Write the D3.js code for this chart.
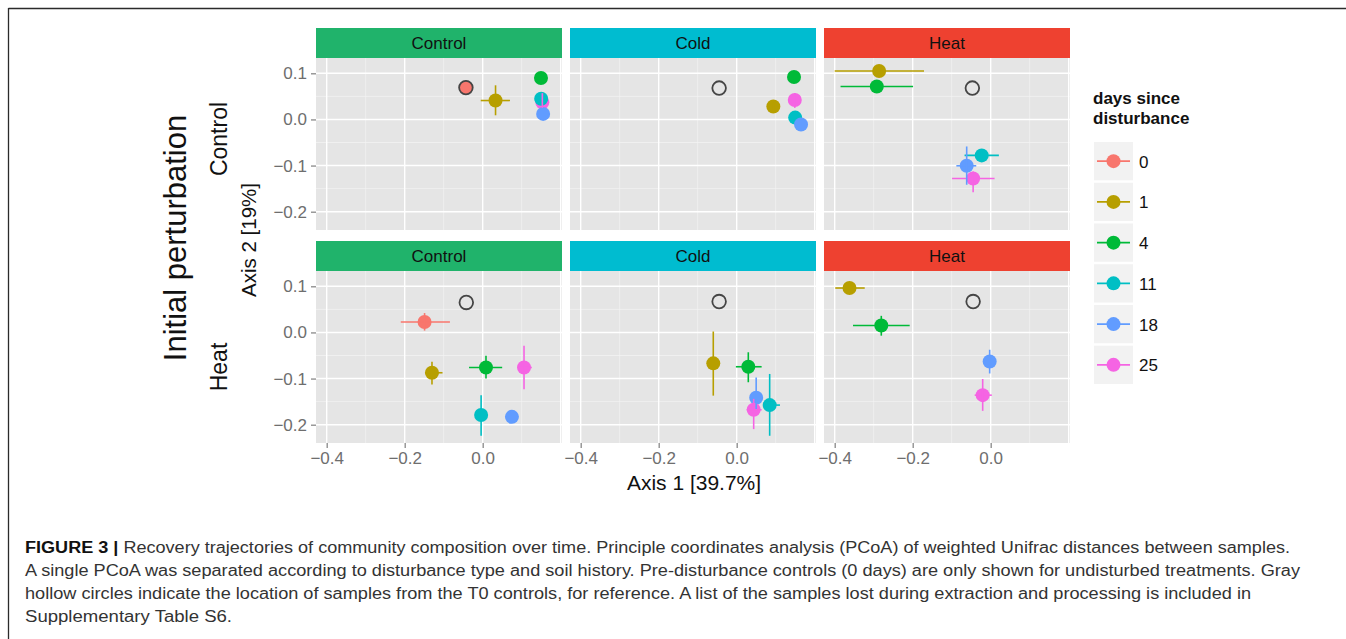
<!DOCTYPE html>
<html>
<head>
<meta charset="utf-8">
<script src="https://cdn.jsdelivr.net/npm/d3@7"></script>
<style>
  html, body { margin: 0; padding: 0; background: #ffffff; }
  svg { display: block; font-family: "Liberation Sans", Arial, Helvetica, sans-serif; }
</style>
</head>
<body>
<svg id="chart" width="1346" height="639"></svg>
<script>
// ---------------- DATA ----------------
const days = ["0", "1", "4", "11", "18", "25"];
const rowLabels = ["Control", "Heat"];          // initial perturbation (soil history)
const colLabels = ["Control", "Cold", "Heat"];  // disturbance type
const xTicks = [-0.4, -0.2, 0.0];
const yTicks = [-0.2, -0.1, 0.0, 0.1];
const xMinor = [-0.3, -0.1, 0.1];
const xMajorGrid = [-0.4, -0.2, 0.0, 0.2];
const yMinor = [-0.15, -0.05, 0.05];

// T0 control reference (gray hollow circles), one per panel [row][col]
const refPoints = [
  [{ x: -0.043, y: 0.069 }, { x: -0.045, y: 0.068 }, { x: -0.047, y: 0.068 }],
  [{ x: -0.042, y: 0.065 }, { x: -0.045, y: 0.067 }, { x: -0.045, y: 0.067 }]
];

// mean positions with error ranges, per panel
const ctrlCtrl = [
  { day: "0",  x: -0.043, y: 0.069 },
  { day: "1",  x: 0.033,  y: 0.041, xmin: -0.005, xmax: 0.070, ymin: 0.009, ymax: 0.074 },
  { day: "4",  x: 0.1495, y: 0.090 },
  { day: "25", x: 0.153,  y: 0.037, ymin: 0.025, ymax: 0.057 },
  { day: "11", x: 0.150,  y: 0.045 },
  { day: "18", x: 0.155,  y: 0.012 }
];
const ctrlCold = [
  { day: "1",  x: 0.094, y: 0.028, ymin: 0.020, ymax: 0.036 },
  { day: "4",  x: 0.147, y: 0.092, ymin: 0.086, ymax: 0.098 },
  { day: "25", x: 0.149, y: 0.042, ymin: 0.025, ymax: 0.057 },
  { day: "11", x: 0.150, y: 0.004 },
  { day: "18", x: 0.165, y: -0.011 }
];
const ctrlHeat = [
  { day: "1",  x: -0.286, y: 0.105,  xmin: -0.400, xmax: -0.171 },
  { day: "4",  x: -0.292, y: 0.0715, xmin: -0.385, xmax: -0.199 },
  { day: "11", x: -0.023, y: -0.078, xmin: -0.067, xmax: 0.021, ymin: -0.086, ymax: -0.070 },
  { day: "18", x: -0.0615, y: -0.1005, xmin: -0.088, xmax: -0.037, ymin: -0.1416, ymax: -0.0586 },
  { day: "25", x: -0.045, y: -0.128, xmin: -0.099, xmax: 0.010, ymin: -0.158, ymax: -0.113 }
];
const heatCtrl = [
  { day: "0",  x: -0.149, y: 0.0226, xmin: -0.210, xmax: -0.084, ymin: 0.004, ymax: 0.042 },
  { day: "1",  x: -0.130, y: -0.0874, xmin: -0.148, xmax: -0.103, ymin: -0.113, ymax: -0.0636 },
  { day: "4",  x: 0.0085, y: -0.076, xmin: -0.035, xmax: 0.050, ymin: -0.0998, ymax: -0.0505 },
  { day: "11", x: -0.004, y: -0.179, ymin: -0.224, ymax: -0.136 },
  { day: "18", x: 0.075, y: -0.183 },
  { day: "25", x: 0.106, y: -0.076, xmin: 0.091, xmax: 0.126, ymin: -0.123, ymax: -0.029 }
];
const heatCold = [
  { day: "1",  x: -0.060, y: -0.067, ymin: -0.137, ymax: 0.002 },
  { day: "4",  x: 0.0298, y: -0.0744, xmin: -0.002, xmax: 0.064, ymin: -0.108, ymax: -0.043 },
  { day: "11", x: 0.0846, y: -0.1575, xmin: 0.068, xmax: 0.111, ymin: -0.224, ymax: -0.090 },
  { day: "18", x: 0.050, y: -0.1416, ymin: -0.166, ymax: -0.0976 },
  { day: "25", x: 0.0436, y: -0.1677, xmin: 0.0256, xmax: 0.064, ymin: -0.2096, ymax: -0.144 }
];
const heatHeat = [
  { day: "1",  x: -0.362, y: 0.0963, xmin: -0.3985, xmax: -0.323 },
  { day: "4",  x: -0.2805, y: 0.0152, xmin: -0.353, xmax: -0.2077, ymin: -0.007, ymax: 0.036 },
  { day: "18", x: -0.0026, y: -0.063, ymin: -0.089, ymax: -0.0375 },
  { day: "25", x: -0.0205, y: -0.136, xmin: -0.041, xmax: 0.003, ymin: -0.170, ymax: -0.101 }
];
const panelData = [[ctrlCtrl, ctrlCold, ctrlHeat], [heatCtrl, heatCold, heatHeat]];

const captionLines = [
  "Recovery trajectories of community composition over time. Principle coordinates analysis (PCoA) of weighted Unifrac distances between samples.",
  "A single PCoA was separated according to disturbance type and soil history. Pre-disturbance controls (0 days) are only shown for undisturbed treatments. Gray",
  "hollow circles indicate the location of samples from the T0 controls, for reference. A list of the samples lost during extraction and processing is included in",
  "Supplementary Table S6."
];

// ---------------- STYLE ----------------
const palette = ["#F8766D", "#B79F00", "#00BA38", "#00BFC4", "#619CFF", "#F564E3"];
const stripColors = ["#20B36B", "#00BCD0", "#EE4130"];
const color = d3.scaleOrdinal().domain(days).range(palette);

const svg = d3.select("#chart");

// figure frame (top + left rule)
svg.append("line").attr("x1", 8.5).attr("x2", 1346).attr("y1", 8.5).attr("y2", 8.5)
  .attr("stroke", "#2b2b2b").attr("stroke-width", 1.3);
svg.append("line").attr("x1", 8.5).attr("x2", 8.5).attr("y1", 8).attr("y2", 639)
  .attr("stroke", "#2b2b2b").attr("stroke-width", 1.3);

const colX = [316, 570, 824];
const panelW = 246, panelH = 172, stripH = 30;
const rowTop = [28, 241];

const x = d3.scaleLinear().domain([-0.4274, 0.2034]).range([0, panelW]);
const y = d3.scaleLinear().domain([-0.2397, 0.1332]).range([panelH, 0]);

const fmt = v => d3.format(".1f")(v).replace("-", "\u2212");

rowLabels.forEach((rl, r) => {
  colLabels.forEach((cl, c) => {
    const g = svg.append("g").attr("transform", `translate(${colX[c]},${rowTop[r]})`);
    // strip
    g.append("rect").attr("x", 0).attr("y", 0).attr("width", panelW).attr("height", stripH)
      .attr("fill", stripColors[c]);
    g.append("text").attr("x", panelW / 2).attr("y", stripH / 2 + 6)
      .attr("text-anchor", "middle").attr("font-size", 17).attr("fill", "#111").text(cl);

    const p = g.append("g").attr("transform", `translate(0,${stripH})`);
    p.append("rect").attr("width", panelW).attr("height", panelH).attr("fill", "#E5E5E5");
    // minor grid
    p.selectAll(".vmin").data(xMinor).enter().append("line")
      .attr("x1", d => x(d)).attr("x2", d => x(d)).attr("y1", 0).attr("y2", panelH)
      .attr("stroke", "#F2F2F2").attr("stroke-width", 0.8);
    p.selectAll(".hmin").data(yMinor).enter().append("line")
      .attr("y1", d => y(d)).attr("y2", d => y(d)).attr("x1", 0).attr("x2", panelW)
      .attr("stroke", "#F2F2F2").attr("stroke-width", 0.8);
    // major grid
    p.selectAll(".vmaj").data(xMajorGrid).enter().append("line")
      .attr("x1", d => x(d)).attr("x2", d => x(d)).attr("y1", 0).attr("y2", panelH)
      .attr("stroke", "#FFFFFF").attr("stroke-width", 1.4);
    p.selectAll(".hmaj").data(yTicks).enter().append("line")
      .attr("y1", d => y(d)).attr("y2", d => y(d)).attr("x1", 0).attr("x2", panelW)
      .attr("stroke", "#FFFFFF").attr("stroke-width", 1.4);

    const data = panelData[r][c];
    // points
    p.selectAll(".pt").data(data).enter().append("circle")
      .attr("cx", d => x(d.x)).attr("cy", d => y(d.y)).attr("r", 7)
      .attr("fill", d => color(d.day));
    // error bars
    p.selectAll(".eh").data(data.filter(d => d.xmin !== undefined)).enter().append("line")
      .attr("x1", d => x(d.xmin)).attr("x2", d => x(d.xmax))
      .attr("y1", d => y(d.y)).attr("y2", d => y(d.y))
      .attr("stroke", d => color(d.day)).attr("stroke-width", 1.6);
    p.selectAll(".ev").data(data.filter(d => d.ymin !== undefined)).enter().append("line")
      .attr("x1", d => x(d.x)).attr("x2", d => x(d.x))
      .attr("y1", d => y(d.ymin)).attr("y2", d => y(d.ymax))
      .attr("stroke", d => color(d.day)).attr("stroke-width", 1.6);
    // reference T0 hollow circle
    const rp = refPoints[r][c];
    p.append("circle").attr("cx", x(rp.x)).attr("cy", y(rp.y)).attr("r", 6.8)
      .attr("fill", "none").attr("stroke", "#454545").attr("stroke-width", 1.8);

    // y axis on first column
    if (c === 0) {
      const ya = d3.axisLeft(y).tickValues(yTicks).tickSize(5).tickPadding(4).tickFormat(fmt);
      const ag = p.append("g").call(ya);
      ag.select(".domain").remove();
      ag.selectAll(".tick line").attr("stroke", "#7F7F7F").attr("stroke-width", 1.2);
      ag.selectAll(".tick text").attr("fill", "#6e6e6e").attr("font-size", 17)
        .attr("font-family", "Liberation Sans, Arial, sans-serif");
    }
    // x axis on bottom row
    if (r === 1) {
      const xa = d3.axisBottom(x).tickValues(xTicks).tickSize(5).tickPadding(4).tickFormat(fmt);
      const ag = p.append("g").attr("transform", `translate(0,${panelH})`).call(xa);
      ag.select(".domain").remove();
      ag.selectAll(".tick line").attr("stroke", "#7F7F7F").attr("stroke-width", 1.2);
      ag.selectAll(".tick text").attr("fill", "#6e6e6e").attr("font-size", 17)
        .attr("font-family", "Liberation Sans, Arial, sans-serif");
    }
  });
});

// row labels (left side)
const rowCenters = [139, 367];
rowLabels.forEach((rl, r) => {
  svg.append("text").attr("transform", `translate(227,${rowCenters[r]}) rotate(-90)`)
    .attr("text-anchor", "middle").attr("font-size", 23).attr("fill", "#111").text(rl);
});
svg.append("text").attr("transform", "translate(186,238) rotate(-90)")
  .attr("text-anchor", "middle").attr("font-size", 31).attr("fill", "#111").text("Initial perturbation");

// axis titles
svg.append("text").attr("x", 694).attr("y", 490).attr("text-anchor", "middle")
  .attr("font-size", 21).attr("fill", "#111").text("Axis 1 [39.7%]");
svg.append("text").attr("transform", "translate(256,240) rotate(-90)")
  .attr("text-anchor", "middle").attr("font-size", 20.5).attr("fill", "#111").text("Axis 2 [19%]");

// legend
const lg = svg.append("g").attr("transform", "translate(1093,0)");
lg.append("text").attr("x", 0).attr("y", 104).attr("font-size", 17).attr("font-weight", "bold")
  .attr("fill", "#111").text("days since");
lg.append("text").attr("x", 0).attr("y", 124).attr("font-size", 17).attr("font-weight", "bold")
  .attr("fill", "#111").text("disturbance");
const keyY = d3.scaleBand().domain(days).range([142, 384]).paddingInner(0.06);
const keys = lg.selectAll(".key").data(days).enter().append("g")
  .attr("transform", d => `translate(1,${keyY(d)})`);
keys.append("rect").attr("width", 39).attr("height", keyY.bandwidth()).attr("fill", "#F2F2F2");
keys.append("line").attr("x1", 3).attr("x2", 36)
  .attr("y1", keyY.bandwidth() / 2).attr("y2", keyY.bandwidth() / 2)
  .attr("stroke", d => color(d)).attr("stroke-width", 1.6);
keys.append("circle").attr("cx", 19.5).attr("cy", keyY.bandwidth() / 2).attr("r", 7)
  .attr("fill", d => color(d));
keys.append("text").attr("x", 45).attr("y", keyY.bandwidth() / 2 + 6.5)
  .attr("font-size", 17).attr("fill", "#111").text(d => d);

// caption
const capWidths = [1265, 1275, 1226, 207];
captionLines.forEach((line, i) => {
  const t = svg.append("text").attr("x", 25).attr("y", 553 + i * 23)
    .attr("font-size", 16).attr("fill", "#333");
  if (i === 0) {
    t.append("tspan").attr("font-weight", "bold").attr("fill", "#111").text("FIGURE 3 | ");
  }
  t.append("tspan").text(line);
  t.attr("textLength", capWidths[i]).attr("lengthAdjust", "spacingAndGlyphs");
});
</script>
</body>
</html>
